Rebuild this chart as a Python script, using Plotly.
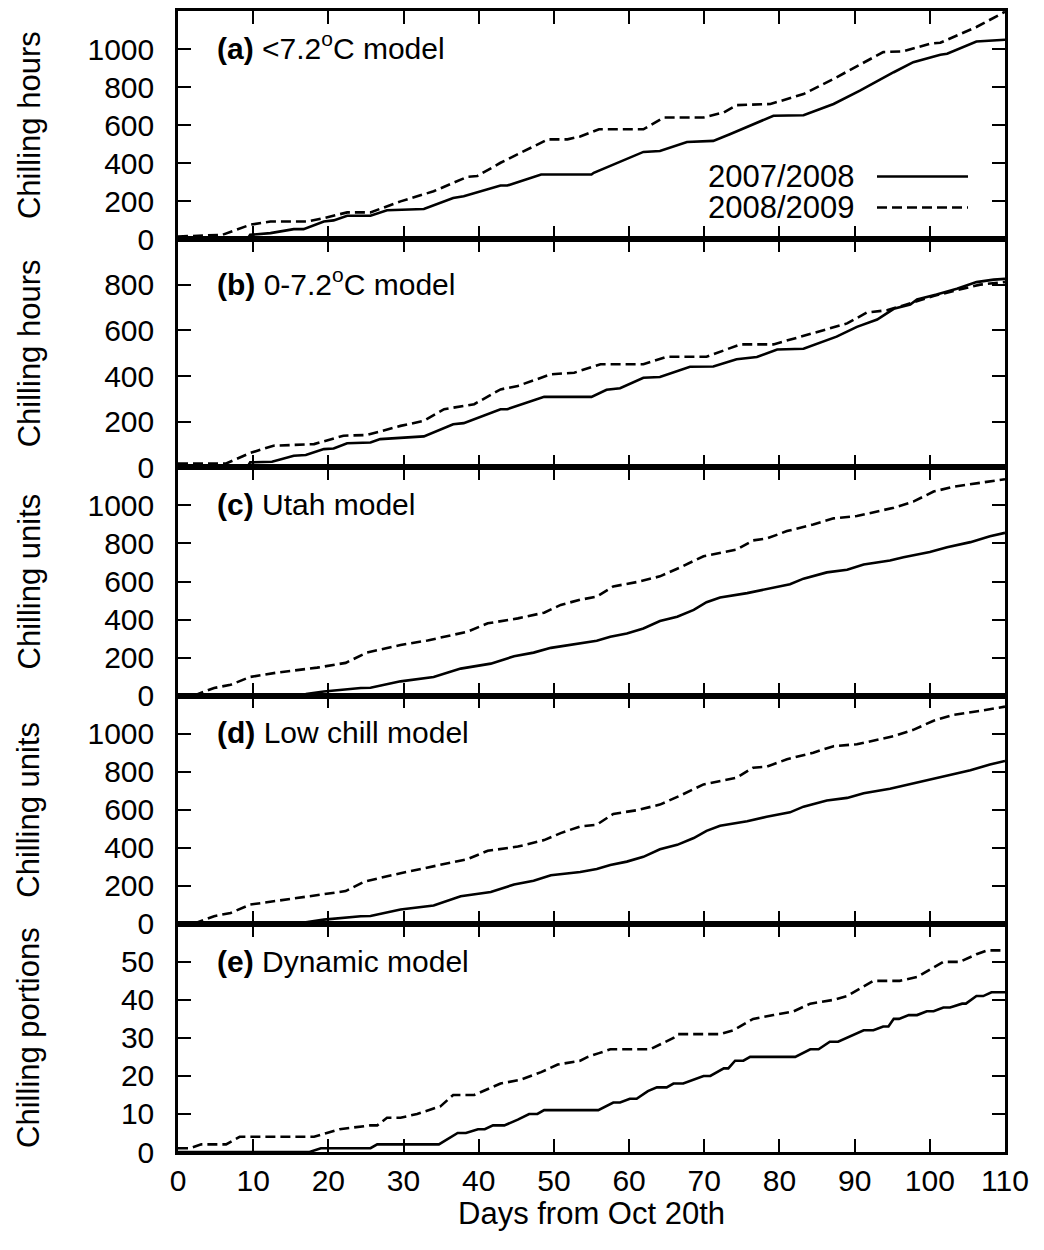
import plotly.graph_objects as go

# ---------------- data ----------------
# (a) <7.2 C model, chilling hours
a_days_0708 = [0, 9.2, 9.6, 12.3, 15.4, 16.7, 19.4, 20.7, 22.5, 25.6, 27.8, 32.7, 36.6, 38, 42.9, 43.8, 48.3, 55, 55.3,
               61.9, 64.1, 67.7, 71.2, 73.4, 79.2, 83.2, 87.2, 90.7, 95.2, 97.8, 101.4, 102.3, 106.2, 110]
a_vals_0708 = [0, 0, 23, 32, 53, 53, 93, 99, 123, 123, 152, 159, 217, 226, 282, 282, 340, 340, 349,
               459, 464, 511, 517, 552, 649, 652, 711, 781, 878, 931, 970, 975, 1040, 1049]
a_days_0809 = [0, 5.9, 9.6, 12.3, 17.2, 19.4, 22.5, 25.6, 29.6, 34, 38.5, 39.8, 42.9, 49.2, 51.8, 53.5, 56, 61.9,
               64.6, 69.9, 72.6, 74.3, 78.8, 83.2, 87.2, 93.8, 96.5, 100, 101.4, 106.2, 110]
a_vals_0809 = [14, 23, 76, 93, 93, 111, 141, 141, 199, 252, 328, 332, 402, 525, 525, 540, 578, 578,
               640, 640, 667, 705, 711, 763, 843, 984, 988, 1028, 1033, 1116, 1196]

# (b) 0-7.2 C model, chilling hours
b_days_0708 = [0, 9.2, 9.6, 12.5, 15.4, 17, 19.4, 20.7, 22.5, 25.6, 26.9, 29.6, 32.7, 36.6, 38, 42.9, 43.8, 48.7, 55,
               57, 58.8, 61.9, 64.1, 68.1, 71.2, 74.3, 77, 79.7, 83.2, 87.6, 90.3, 93, 95.2, 97.4, 98.3, 100.9,
               103.6, 106.2, 108.5, 110]
b_vals_0708 = [0, 0, 22, 25, 51, 54, 80, 83, 106, 109, 124, 131, 136, 189, 194, 255, 255, 309, 309,
               340, 347, 393, 396, 441, 442, 474, 484, 517, 520, 573, 616, 648, 695, 714, 736, 758,
               783, 812, 823, 826]
b_days_0809 = [0, 6.4, 9.6, 12.7, 18.1, 19.8, 22, 25.1, 29.6, 32.7, 35.4, 39.4, 42.9, 45.2, 49.6, 52.7, 53.5, 56.2,
               61.9, 65, 70.3, 74.8, 79.2, 84.5, 89, 91.6, 94.3, 96.9, 100.5, 103.6, 106.7, 110]
b_vals_0809 = [17, 17, 63, 95, 102, 117, 139, 142, 182, 204, 255, 277, 342, 357, 408, 415, 423, 452,
               452, 485, 485, 539, 539, 590, 631, 678, 689, 714, 751, 777, 801, 812]

# (c) Utah model, chilling units
c_days_0708 = [0, 14, 17, 19.4, 24.3, 25.6, 29.6, 34, 37.6, 41.6, 44.7, 47.3, 49.6, 53.5, 55.7, 57.5, 59.7, 61.9,
               64.1, 66.4, 68.6, 70.3, 72.1, 75.7, 78.3, 81.4, 83.2, 86.3, 89, 91.2, 94.7, 96.5, 100, 102.3,
               105.4, 108, 110]
c_vals_0708 = [0, 0, 8, 22, 40, 41, 75, 98, 142, 168, 207, 226, 251, 274, 288, 309, 327, 353,
               392, 415, 451, 491, 516, 539, 562, 586, 615, 648, 662, 689, 710, 727, 755, 780,
               807, 838, 856]
c_days_0809 = [2.1, 4.8, 7, 9.6, 13.2, 18.5, 22.3, 24.6, 25.1, 29.6, 33.2, 38.5, 41.2, 45.2, 48.7, 50.9, 53.5,
               55.7, 57.9, 61, 64.1, 66.8, 69.9, 74.3, 76.5, 78.3, 81, 84.5, 87.2, 90.3, 95.2, 97.8, 100.5,
               103.1, 106.7, 110]
c_vals_0809 = [0, 40, 57, 98, 121, 147, 172, 215, 226, 266, 290, 336, 380, 406, 436, 477, 504,
               521, 574, 597, 627, 674, 733, 768, 816, 826, 865, 900, 932, 944, 988, 1020, 1073,
               1098, 1120, 1138]

# (d) Low chill model, chilling units
d_days_0708 = [0, 14, 17, 19.4, 24.3, 25.6, 29.6, 34, 37.6, 41.6, 44.7, 47.3, 49.6, 53.5, 55.7, 57.5, 59.7, 61.9,
               64.1, 66.4, 68.6, 70.3, 72.1, 75.7, 78.3, 81.4, 83.2, 86.3, 89, 91.2, 94.7, 96.5, 100, 102.3,
               105.4, 108, 110]
d_vals_0708 = [0, 0, 8, 22, 40, 41, 75, 96, 145, 167, 207, 226, 255, 272, 288, 309, 327, 352,
               392, 415, 451, 489, 516, 539, 563, 586, 616, 648, 662, 687, 710, 727, 758, 780,
               807, 838, 856]
d_days_0809 = [2.1, 4.8, 7, 9.6, 13.2, 18.5, 22.3, 24.6, 25.1, 29.6, 33.2, 38.5, 41.2, 45.2, 48.7, 50.9, 53.5,
               55.7, 57.9, 61, 64.1, 66.8, 69.9, 74.3, 76.5, 78.3, 81, 84.5, 87.2, 90.3, 95.2, 97.8, 100.5,
               103.1, 106.7, 110]
d_vals_0809 = [0, 40, 57, 101, 121, 149, 172, 218, 225, 266, 295, 340, 384, 406, 440, 477, 512,
               521, 578, 597, 627, 674, 733, 768, 821, 826, 865, 900, 934, 944, 987, 1020, 1068,
               1098, 1120, 1142]

# (e) Dynamic model, chilling portions
e_days_0708 = [0, 17.5, 19, 25.6, 26.5, 34.7, 37.2, 38.3, 39.9, 40.8, 41.9, 43.4, 45.2, 46.7, 47.8, 48.7, 55.9,
               57.9, 58.8, 60.1, 61, 62.5, 63.7, 65, 65.9, 67.2, 69.9, 70.8, 72.6, 73.2, 74.1, 75.2, 76.1,
               82.1, 84.1, 85.2, 86.7, 87.8, 91.2, 92.5, 93.8, 94.5, 95.2, 95.9, 97.2, 98.3, 99.6, 100.5,
               101.8, 102.7, 104.3, 104.8, 106.2, 107.1, 108.2, 110]
e_vals_0708 = [0, 0, 1, 1, 2, 2, 5, 5, 6, 6, 7, 7, 8.5, 10, 10, 11, 11,
               13, 13, 14, 14, 16, 17, 17, 18, 18, 20, 20, 22, 22, 24, 24, 25,
               25, 27, 27, 29, 29, 32, 32, 33, 33, 35, 35, 36, 36, 37, 37,
               38, 38, 39, 39, 41, 41, 42, 42]
e_days_0809 = [0, 1.6, 3.1, 6.4, 8.2, 18.1, 19.8, 21.5, 25.6, 26.5, 27.8, 29.6, 31.8, 33.5, 34.9, 36.6, 39.4,
               42.9, 45.6, 48.3, 50.5, 53.5, 54.5, 56, 57.5, 62.8, 65.9, 66.5, 72.1, 73.9, 76.5, 79.2, 81.9,
               84.1, 87.2, 89, 92.5, 96, 98.3, 101.8, 104, 106.2, 107.6, 110]
e_vals_0809 = [1, 1, 2, 2, 4, 4, 5, 6, 7, 7, 9, 9, 10, 11, 12, 15, 15,
               18, 19, 21, 23, 24, 25, 26, 27, 27, 30, 31, 31, 32, 35, 36, 37,
               39, 40, 41, 45, 45, 46, 50, 50, 52, 53, 53]

panel_labels = ["(a)", "(b)", "(c)", "(d)", "(e)"]
panel_titles = ["&lt;7.2<sup>o</sup>C model", "0-7.2<sup>o</sup>C model", "Utah model",
                "Low chill model", "Dynamic model"]
y_titles = ["Chilling hours", "Chilling hours", "Chilling units", "Chilling units", "Chilling portions"]
y_ranges = [[0, 1200], [0, 1000], [0, 1200], [0, 1200], [0, 60]]
y_tickvals = [[0, 200, 400, 600, 800, 1000], [0, 200, 400, 600, 800],
              [0, 200, 400, 600, 800, 1000], [0, 200, 400, 600, 800, 1000], [0, 10, 20, 30, 40, 50]]
x_tickvals = list(range(0, 111, 10))
season_names = ["2007/2008", "2008/2009"]
x_title = "Days from Oct 20th"

series = [
    (a_days_0708, a_vals_0708, a_days_0809, a_vals_0809),
    (b_days_0708, b_vals_0708, b_days_0809, b_vals_0809),
    (c_days_0708, c_vals_0708, c_days_0809, c_vals_0809),
    (d_days_0708, d_vals_0708, d_days_0809, d_vals_0809),
    (e_days_0708, e_vals_0708, e_days_0809, e_vals_0809),
]

# ---------------- figure ----------------
W, H = 1044, 1250
ML, MR, MT, MB = 178, 39, 8, 98
PW = W - ML - MR
PH = H - MT - MB
FONT = "Liberation Sans, Arial, sans-serif"
LW = 2.6
DASH = "10px,5px"
PANEL_OFFSETS = [35, 43, 37, 37, 38]   # px from panel top to label centre

fig = go.Figure()
layout = dict(
    width=W, height=H,
    margin=dict(l=ML, r=MR, t=MT, b=MB, pad=0),
    paper_bgcolor="white", plot_bgcolor="white",
    showlegend=False,
    font=dict(family=FONT, size=30, color="black"),
)

n = 5
annotations = []
for i in range(n):
    k = i + 1
    xs = "x" if k == 1 else f"x{k}"
    ys = "y" if k == 1 else f"y{k}"
    top = 1 - i / n
    bot = 1 - (i + 1) / n
    d1, v1, d2, v2 = series[i]
    fig.add_trace(go.Scatter(x=d1, y=v1, mode="lines", name=season_names[0],
                             line=dict(color="black", width=LW), xaxis=xs, yaxis=ys))
    fig.add_trace(go.Scatter(x=d2, y=v2, mode="lines", name=season_names[1],
                             line=dict(color="black", width=LW, dash=DASH), xaxis=xs, yaxis=ys))
    layout[f"xaxis{k if k > 1 else ''}"] = dict(
        domain=[0, 1], anchor=ys, range=[0, 110], tickvals=x_tickvals,
        ticks="inside", ticklen=13, tickwidth=2, tickcolor="black",
        showline=True, linewidth=2.5, linecolor="black", mirror="ticks",
        showgrid=False, zeroline=False, showticklabels=(k == n),
        tickfont=dict(family=FONT, size=30, color="black"),
        ticklabelstandoff=0,
    )
    layout[f"yaxis{k if k > 1 else ''}"] = dict(
        domain=[bot, top], anchor=xs, range=y_ranges[i], tickvals=y_tickvals[i],
        ticks="inside", ticklen=13, tickwidth=2, tickcolor="black",
        showline=True, linewidth=2.5, linecolor="black", mirror="ticks",
        showgrid=False, zeroline=False,
        tickfont=dict(family=FONT, size=30, color="black"),
        ticklabelstandoff=15,
    )
    # panel label
    annotations.append(dict(
        xref=f"{xs} domain", yref=f"{ys} domain", x=37 / PW, y=1 - PANEL_OFFSETS[i] / (PH / n),
        xanchor="left", yanchor="middle", showarrow=False,
        text=f"<b>{panel_labels[i]}</b> {panel_titles[i]}",
        font=dict(family=FONT, size=30, color="black"),
    ))
    # y title
    annotations.append(dict(
        xref="paper", yref=f"{ys} domain", x=(29 - ML) / PW, y=0.5,
        xanchor="center", yanchor="middle", showarrow=False, textangle=-90,
        text=y_titles[i], font=dict(family=FONT, size=31, color="black"),
    ))

# x title
annotations.append(dict(
    xref="paper", yref="paper", x=0.5, y=(H - MB - 1214) / PH,
    xanchor="center", yanchor="middle", showarrow=False,
    text=x_title, font=dict(family=FONT, size=31, color="black"),
))

# legend (text left, line sample right) inside panel (a)
leg_rows = [174, 205]
shapes = []
for j, name in enumerate(season_names):
    py = leg_rows[j]
    yp = (H - MB - py) / PH
    annotations.append(dict(
        xref="paper", yref="paper", x=(857 - ML) / PW, y=yp,
        xanchor="right", yanchor="middle", showarrow=False,
        text=name, font=dict(family=FONT, size=31, color="black"),
    ))
    shapes.append(dict(
        type="line", xref="paper", yref="paper",
        x0=(877 - ML) / PW, x1=(968 - ML) / PW, y0=yp, y1=yp,
        line=dict(color="black", width=LW, dash=None if j == 0 else DASH),
    ))

layout["annotations"] = annotations
layout["shapes"] = shapes
fig.update_layout(**layout)

fig.write_html("out.html")
